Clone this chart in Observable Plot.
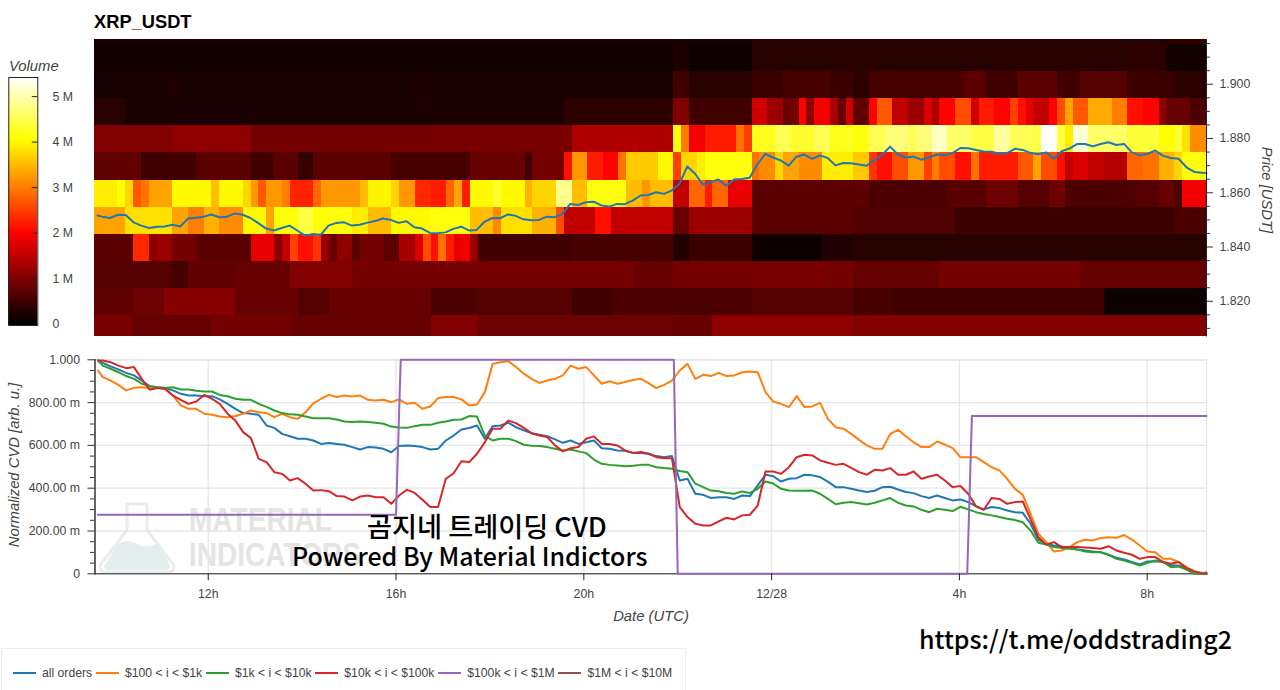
<!DOCTYPE html>
<html>
<head>
<meta charset="utf-8">
<script src="https://cdn.jsdelivr.net/npm/d3@7"></script>
<script src="https://cdn.jsdelivr.net/npm/@observablehq/plot@0.6"></script>
<style>
html,body{margin:0;padding:0;background:#fff;}
#page{position:relative;width:1280px;height:690px;overflow:hidden;font-family:"Liberation Sans",Arial,sans-serif;}
#page svg.plot, #page svg{position:absolute;left:0;}
.t{position:absolute;white-space:nowrap;color:#444;}
.lab{font-style:italic;font-size:14.8px;}
.big{color:#000;font-family:"Noto Sans CJK KR","Noto Sans",sans-serif;font-weight:500;z-index:5;}
#legend{position:absolute;left:1px;top:648px;width:685px;height:50px;border:1px solid #eeeeee;box-sizing:border-box;display:flex;align-items:flex-start;padding:17px 0 0 11px;font-size:12.2px;color:#444;z-index:4;}
#legend .i{display:flex;align-items:center;margin-right:3.8px;}
#legend .k{display:inline-block;width:23px;height:2px;margin-right:6px;}
.wm{position:absolute;font-weight:700;font-size:33px;color:#e4e4e4;transform-origin:left top;transform:scaleX(.85);white-space:nowrap;}
</style>
</head>
<body>
<div id="page">
  <svg id="flask" style="left:96px;top:500px" width="82" height="75" viewBox="0 0 82 75">
    <path d="M31 4H51V30L77 64Q80 72 72 72H10Q2 72 5 64L31 30Z" fill="none" stroke="#ececec" stroke-width="3"/>
    <path d="M8 66L22 44Q32 38 42 44Q52 50 62 42L74 66Q74 70 70 70H12Q8 70 8 66Z" fill="#e4eeee"/>
  </svg>
  <div class="wm" style="left:189px;top:501px">MATERIAL</div>
  <div class="wm" style="left:189px;top:536px">INDICATORS</div>
  <div class="t" style="left:94px;top:11px;font-size:18.3px;font-weight:700;color:#000">XRP_USDT</div>
  <div class="t lab" style="left:9px;top:58px">Volume</div>
  <div class="t lab" style="left:1267px;top:190px;transform:translate(-50%,-50%) rotate(90deg)">Price [USDT]</div>
  <div class="t lab" style="left:14px;top:465px;transform:translate(-50%,-50%) rotate(-90deg)">Normalized CVD [arb. u.]</div>
  <div class="t lab" style="left:651px;top:608px;transform:translateX(-50%)">Date (UTC)</div>
  <div class="t big" style="left:367px;top:507px;font-size:27.2px;line-height:36px">곰지네 트레이딩 CVD</div>
  <div class="t big" style="left:292px;top:537px;font-size:25px;line-height:36px">Powered By Material Indictors</div>
  <div class="t big" style="left:919px;top:620px;font-size:25px;line-height:36px">https://t.me/oddstrading2</div>
  <div id="legend"></div>
</div>
<script>
// ---------- time ----------
const startTime = Date.UTC(2025, 11, 27, 9, 35, 17);
const endTime = Date.UTC(2025, 11, 28, 9, 15, 48);
const heatStepMinutes = 10;
const sampleStepMinutes = 9.964;
const firstSampleOffsetMinutes = 3.8;
const xTickTimes = [
  Date.UTC(2025,11,27,12), Date.UTC(2025,11,27,16), Date.UTC(2025,11,27,20),
  Date.UTC(2025,11,28,0), Date.UTC(2025,11,28,4), Date.UTC(2025,11,28,8)
];
const xTickLabels = ["12h","16h","20h","12/28","4h","8h"];

// ---------- heat map: volume (millions) as [run length in 10-minute columns, value], row named by its lower price edge ----------
const vol18047 = [[5,.95],[10,.8],[10,.9],[18,.8],[6,1.0],[25,.85],[5,.8],[18,1.1],[46,1.0]];
const vol18147 = [[5,.75],[4,.85],[9,1.05],[8,.8],[4,.65],[13,.8],[6,.6],[12,.65],[5,.5],[18,.6],[13,.65],[5,.55],[27,.5],[14,.1]];
const vol18247 = [[10,.65],[2,.55],[6,.75],[7,.8],[8,1.0],[10,.9],[6,.9],[20,.9],[5,.8],[10,.9],[9,.95],[4,.9],[11,.8],[18,.9],[17,.8]];
const vol18347 = [[5,.7],[2,2.3],[1,1.1],[2,1.2],[3,.9],[3,.7],[4,.7],[3,1.8],[1,1.1],[1,1.5],[1,2.5],[2,2.1],[1,2.4],[1,1.2],[1,.8],[2,1.1],[1,.7],[3,.9],[2,.7],[2,1.3],[1,1.7],[1,2.6],[1,2.1],[1,2.9],[1,2.2],[1,1.8],[1,1.9],[1,1.2],[12,.5],[13,.55],[2,.25],[8,.45],[9,.12],[4,.25],[45,.3],[1,.25]];
const vol18447 = [[4,3.3],[6,3.8],[2,3.3],[2,3.0],[2,3.4],[3,3.1],[3,4.0],[1,3.3],[3,4.1],[2,4.4],[5,4.1],[2,3.9],[3,3.5],[5,4.0],[5,4.1],[3,3.5],[1,3.1],[4,3.8],[3,3.4],[1,2.6],[4,1.5],[2,2.1],[8,1.5],[2,.8],[8,1.2],[13,.7],[13,.62],[28,.47],[5,.58]];
const vol18547 = [[3,3.9],[1,4.05],[1,3.7],[1,2.7],[1,2.9],[3,3.3],[5,4.0],[1,3.5],[3,4.0],[1,3.7],[1,3.2],[1,2.7],[2,3.2],[1,3.0],[3,2.25],[1,2.8],[5,3.2],[1,3.5],[3,3.95],[1,3.7],[2,3.2],[2,2.3],[2,2.2],[1,2.8],[1,3.3],[1,2.2],[3,4.0],[1,4.3],[3,4.0],[1,3.4],[3,3.7],[2,4.8],[2,3.5],[5,4.1],[2,3.5],[1,3.2],[3,3.5],[2,1.5],[2,2.8],[1,2.2],[2,2.8],[3,1.8],[15,.72],[10,.6],[5,.68],[4,.85],[4,.65],[2,.85],[9,.6],[3,.65],[2,.78],[1,.6],[4,1.9]];
const vol18647 = [[6,.75],[7,.5],[7,.7],[3,.5],[3,.7],[2,.4],[10,.7],[5,.55],[5,.55],[7,.8],[1,.5],[4,.9],[1,2.1],[2,3.2],[2,2.2],[2,2.0],[1,2.9],[4,3.6],[2,4.0],[1,2.5],[2,3.7],[1,3.9],[6,4.1],[1,2.9],[2,3.1],[1,3.7],[2,3.3],[3,3.1],[4,3.9],[2,3.6],[1,2.4],[2,2.1],[2,2.6],[2,3.2],[1,2.5],[1,3.0],[2,2.6],[2,2.1],[1,2.9],[5,2.2],[2,2.7],[1,3.3],[2,2.6],[1,2.1],[1,1.5],[2,1.7],[2,1.5],[3,1.4],[2,2.8],[2,2.9],[2,3.4],[1,3.7],[4,4.1]];
const vol18747 = [[10,1.0],[10,1.1],[23,.9],[18,.95],[13,1.35],[1,4.1],[1,3.0],[2,1.9],[4,2.2],[1,2.9],[1,2.5],[3,4.2],[2,4.5],[3,4.3],[2,4.5],[3,4.2],[2,4.1],[2,4.5],[3,4.7],[1,4.5],[2,4.7],[2,5.1],[3,4.6],[3,4.4],[2,4.9],[3,4.5],[1,4.4],[2,5.4],[1,4.4],[1,3.9],[2,5.2],[5,4.6],[4,4.35],[2,4.05],[1,4.3],[1,3.8],[2,3.1],[1,3.4]];
const vol18847 = [[4,.3],[56,.2],[14,.35],[2,1.0],[8,.5],[2,1.6],[2,1.2],[1,.8],[1,.9],[1,2.0],[1,1.1],[2,1.9],[1,1.3],[1,.8],[1,1.6],[2,.75],[1,2.0],[2,2.7],[2,1.5],[2,1.2],[1,1.7],[1,1.3],[2,2.0],[2,2.6],[1,1.6],[2,2.2],[2,2.0],[1,2.5],[1,2.1],[1,1.8],[2,1.5],[1,2.0],[1,2.6],[1,3.3],[2,2.7],[3,3.35],[2,3.0],[2,2.1],[2,2.0],[1,1.1],[3,.8],[3,.6]];
const vol18947 = [[9,.17],[2,.22],[29,.17],[3,.22],[31,.2],[2,.5],[8,.3],[4,.45],[6,.55],[3,.45],[2,.35],[12,.55],[3,.7],[4,.5],[5,.7],[3,.5],[6,.65],[6,.45],[5,.35]];
const vol19047 = [[74,.14],[2,.22],[8,.12],[48,.3],[5,.35],[6,.15]];
const vol19147 = [[84,.2],[59,.3]];
const volumeRows = [vol18047,vol18147,vol18247,vol18347,vol18447,vol18547,vol18647,vol18747,vol18847,vol18947,vol19047,vol19147];
const rowLowerEdges = [1.8047,1.8147,1.8247,1.8347,1.8447,1.8547,1.8647,1.8747,1.8847,1.8947,1.9047,1.9147];
const rowHeight = 0.01;
const priceDomain = [1.8072, 1.9165];
const priceTicks = [1.82,1.84,1.86,1.88,1.90];
const priceMinorTicks = [1.81,1.815,1.825,1.83,1.835,1.845,1.85,1.855,1.865,1.87,1.875,1.885,1.89,1.895,1.905,1.91,1.915];

// ---------- price line (USDT) ----------
const priceLine = [
1.8516,1.8512,1.8507,1.8519,1.8518,1.8491,1.8479,1.8470,1.8475,1.8476,
1.8482,1.8476,1.8505,1.8508,1.8512,1.8520,1.8510,1.8512,1.8524,1.8519,
1.8507,1.8488,1.8468,1.8461,1.8470,1.8479,1.8461,1.8441,1.8448,1.8445,
1.8479,1.8489,1.8491,1.8479,1.8482,1.8490,1.8496,1.8505,1.8500,1.8489,
1.8495,1.8473,1.8468,1.8452,1.8451,1.8454,1.8467,1.8475,1.8461,1.8463,
1.8493,1.8507,1.8506,1.8520,1.8515,1.8502,1.8499,1.8500,1.8512,1.8510,
1.8522,1.8559,1.8555,1.8565,1.8567,1.8553,1.8549,1.8559,1.8558,1.8571,
1.8590,1.8592,1.8602,1.8596,1.8608,1.8633,1.8697,1.8670,1.8630,1.8639,
1.8649,1.8626,1.8649,1.8651,1.8655,1.8706,1.8743,1.8730,1.8719,1.8700,
1.8733,1.8741,1.8725,1.8738,1.8728,1.8701,1.8710,1.8709,1.8704,1.8700,
1.8721,1.8740,1.8770,1.8741,1.8730,1.8733,1.8722,1.8730,1.8741,1.8738,
1.8746,1.8765,1.8764,1.8758,1.8752,1.8751,1.8744,1.8746,1.8762,1.8758,
1.8747,1.8742,1.8749,1.8725,1.8753,1.8763,1.8780,1.8780,1.8771,1.8780,
1.8786,1.8776,1.8780,1.8749,1.8738,1.8743,1.8756,1.8736,1.8728,1.8725,
1.8694,1.8677,1.8674,1.8673];

// ---------- normalized CVD (milli units) ----------
const cvdAll = [
997,986,969,955,939,927,903,877,872,868,
857,841,833,833,830,830,815,794,771,751,
748,743,693,682,654,643,631,631,623,607,
611,607,603,592,581,592,590,584,568,597,
600,597,592,581,584,623,646,674,681,693,
631,690,693,706,685,670,657,650,643,628,
612,623,607,615,623,587,584,576,575,565,
565,561,550,545,550,436,444,374,369,354,
358,358,350,366,363,413,463,456,431,444,
447,463,460,452,431,405,405,397,389,382,
388,405,407,394,382,377,363,354,366,354,
343,347,335,316,301,312,307,296,288,285,
234,159,140,132,128,120,114,109,104,101,
89,75,67,55,44,58,59,55,39,39,
26,11,2,0];
const cvd100to1k = [
950,919,903,883,857,869,872,868,871,864,
833,787,771,771,748,743,735,732,737,748,
763,755,751,732,748,732,724,755,796,818,
836,826,833,829,833,813,810,813,802,815,
794,799,771,782,821,826,826,815,787,791,
849,981,989,994,966,935,911,892,903,911,
927,973,958,966,927,888,900,888,896,906,
911,891,868,883,903,950,981,911,930,924,
939,924,927,942,945,942,849,805,794,779,
830,779,782,799,724,685,678,654,626,600,
584,584,654,673,643,615,592,592,618,604,
587,545,545,545,522,498,483,444,397,369,
280,187,148,104,109,125,148,159,156,167,
171,168,181,160,132,104,101,70,70,55,
31,11,5,3];
const cvd1kto10k = [
997,973,958,942,924,911,888,877,872,868,
872,861,861,855,852,852,836,830,818,813,
813,794,780,763,751,745,743,735,727,727,
727,721,712,709,712,709,706,701,688,684,
682,690,696,696,706,712,720,721,737,735,
646,623,631,631,620,603,598,597,592,584,
576,581,572,564,534,514,509,506,503,505,
509,509,498,494,491,480,475,421,405,389,
386,378,374,385,378,397,431,422,397,389,
388,388,389,374,350,325,332,335,330,324,
332,343,354,332,319,315,299,288,304,299,
293,313,301,288,279,273,265,257,251,241,
202,145,137,125,121,117,114,104,101,101,
89,70,62,51,39,51,62,55,31,34,
20,0,0,0];
const cvd10kto100k = [
997,997,989,973,961,966,911,860,868,864,
833,813,794,805,836,818,794,748,716,662,
634,537,522,475,467,436,447,421,389,391,
386,363,361,343,361,366,358,358,327,366,
393,378,346,312,312,444,470,526,522,561,
615,678,678,716,704,682,657,646,639,600,
572,587,592,631,642,607,607,600,576,565,
569,561,545,540,540,312,265,234,226,226,
245,262,254,273,276,319,478,478,467,498,
545,556,553,530,519,509,514,495,475,463,
486,483,494,463,463,478,444,455,463,436,
405,410,374,315,299,354,350,327,335,338,
254,171,137,148,125,125,125,123,120,117,
129,109,98,89,70,78,78,55,47,55,
26,11,2,0];
const cvd100kto1mTimes = [
  Date.UTC(2025,11,27,9,39), Date.UTC(2025,11,27,16,0), Date.UTC(2025,11,27,16,6),
  Date.UTC(2025,11,27,21,55), Date.UTC(2025,11,27,22,0), Date.UTC(2025,11,28,4,10),
  Date.UTC(2025,11,28,4,16), endTime];
const cvd100kto1m = [276,276,1000,1000,0,0,737,737];
const cvd1mto10mTimes = [Date.UTC(2025,11,28,9,8), endTime];
const cvd1mto10m = [0,6];
const cvdTicks = [0,200,400,600,800,1000];
const cvdMinorTicks = [50,100,150,250,300,350,450,500,550,650,700,750,850,900,950];

// ---------- legend ----------
const seriesNames = ["all orders","$100 < i < $1k","$1k < i < $10k","$10k < i < $100k","$100k < i < $1M","$1M < i < $10M"];
const seriesColors = ["#1f77b4","#ff7f0e","#2ca02c","#d62728","#9467bd","#8c564b"];

// ---------- colour bar ----------
const volumeTicks = [0,1,2,3,4,5];
const volumeDomain = [-0.03, 5.42];
const colorScale = {type:"linear", domain:[0,1.98,4.04,5.42], range:["#000000","#ff0000","#ffff00","#ffffff"], interpolate:"rgb", clamp:true};

// ---------- build tables ----------
const heatStep = heatStepMinutes*60000;
const cells = [];
volumeRows.forEach((runs, r) => {
  let c = 0;
  for (const [n, v] of runs) {
    for (let k = 0; k < n; k++, c++) {
      const x1 = startTime + c*heatStep;
      if (x1 >= endTime) continue;
      cells.push({x1:new Date(x1), x2:new Date(Math.min(x1+heatStep,endTime)),
        y1:Math.max(rowLowerEdges[r],priceDomain[0]), y2:Math.min(rowLowerEdges[r]+rowHeight,priceDomain[1]), v});
    }
  }
});
const sampleTime = i => i === 0 ? new Date(startTime + firstSampleOffsetMinutes*60000)
  : i >= 143 ? new Date(endTime) : new Date(startTime + i*sampleStepMinutes*60000);
const sampled = vals => vals.map((v,i)=>({t:sampleTime(i), v}));
const knots = (ts,vs) => vs.map((v,i)=>({t:new Date(ts[i]), v}));
const xDomain = [new Date(startTime), new Date(endTime)];
const tickDates = xTickTimes.map(t=>new Date(t));
const textFill = "#444";
const fontSize = "12.3px";
const font = {fontFamily:"'Liberation Sans',Arial,sans-serif", fontSize};
const page = document.getElementById("page");

// ---------- heat map ----------
const heatPlot = Plot.plot({
  width:1280, height:338, marginLeft:94, marginRight:74, marginTop:39, marginBottom:2.5,
  style:{background:"transparent", ...font},
  x:{type:"time", domain:xDomain, axis:null},
  y:{domain:priceDomain, axis:null},
  color:colorScale,
  marks:[
    Plot.rect(cells,{x1:"x1",x2:"x2",y1:"y1",y2:"y2",fill:"v",shapeRendering:"crispEdges"}),
    Plot.line(sampled(priceLine),{x:"t",y:"v",stroke:"#1f77b4",strokeWidth:2,strokeLinejoin:"round"}),
    Plot.frame({anchor:"right",stroke:"#222",strokeWidth:1}),
    Plot.axisY(priceTicks,{anchor:"right",tickSize:6,tickPadding:7,tickFormat:d3.format(".3f"),stroke:"#333",fill:textFill,label:null}),
    Plot.axisY(priceMinorTicks,{anchor:"right",tickSize:3,tickFormat:()=>null,stroke:"#333",label:null})
  ]
});
heatPlot.style.top="0px";
page.appendChild(heatPlot);

// ---------- colour bar ----------
const levels = d3.range(volumeDomain[0], volumeDomain[1], 0.02);
const barPlot = Plot.plot({
  width:90, height:338, marginLeft:8.3, marginRight:52.7, marginTop:77, marginBottom:13,
  style:{background:"transparent", ...font},
  x:{axis:null},
  y:{domain:volumeDomain, axis:null},
  color:colorScale,
  marks:[
    Plot.rect(levels,{y1:d=>d,y2:d=>Math.min(d+0.05,volumeDomain[1]),fill:d=>d,shapeRendering:"crispEdges"}),
    Plot.tickY(volumeTicks.slice(1),{y:d=>d,stroke:"#222",insetLeft:23.5}),
    Plot.axisY(volumeTicks,{anchor:"right",tickSize:0,tickPadding:14.7,tickFormat:d=>d===0?"0":d+" M",fill:textFill,label:null}),
    Plot.frame({stroke:"#222",strokeWidth:1})
  ]
});
barPlot.style.top="0px";
page.appendChild(barPlot);

// ---------- CVD ----------
const cvdPlot = Plot.plot({
  width:1280, height:285, marginLeft:94.5, marginRight:74, marginTop:14.3, marginBottom:56.7,
  style:{background:"transparent", ...font},
  x:{type:"time", domain:xDomain, axis:null},
  y:{domain:[0,1000], axis:null},
  marks:[
    Plot.gridX(tickDates,{stroke:"#e6e6e6",strokeOpacity:1,strokeWidth:1.3}),
    Plot.gridY(cvdTicks,{stroke:"#e6e6e6",strokeOpacity:1,strokeWidth:1.3}),
    Plot.frame({anchor:"right",stroke:"#e6e6e6",strokeWidth:1.3}),
    Plot.frame({anchor:"top",stroke:"#e6e6e6",strokeWidth:1.3}),
    Plot.frame({anchor:"left",stroke:"#333",strokeWidth:1.5}),
    Plot.frame({anchor:"bottom",stroke:"#222",strokeWidth:1}),
    Plot.line(sampled(cvdAll),{x:"t",y:"v",stroke:seriesColors[0],strokeWidth:2,strokeLinejoin:"round"}),
    Plot.line(sampled(cvd100to1k),{x:"t",y:"v",stroke:seriesColors[1],strokeWidth:2,strokeLinejoin:"round"}),
    Plot.line(sampled(cvd1kto10k),{x:"t",y:"v",stroke:seriesColors[2],strokeWidth:2,strokeLinejoin:"round"}),
    Plot.line(sampled(cvd10kto100k),{x:"t",y:"v",stroke:seriesColors[3],strokeWidth:2,strokeLinejoin:"round"}),
    Plot.line(knots(cvd100kto1mTimes,cvd100kto1m),{x:"t",y:"v",stroke:seriesColors[4],strokeWidth:2,strokeLinejoin:"round"}),
    Plot.line(knots(cvd1mto10mTimes,cvd1mto10m),{x:"t",y:"v",stroke:seriesColors[5],strokeWidth:2,strokeLinejoin:"round"}),
    Plot.axisY(cvdTicks,{anchor:"left",tickSize:7,tickPadding:8,stroke:"#333",fill:textFill,label:null,
      tickFormat:d=>d===0?"0":d===1000?"1.000":d3.format(".2f")(d)+" m"}),
    Plot.axisY(cvdMinorTicks,{anchor:"left",tickSize:4.5,tickFormat:()=>null,stroke:"#333",label:null}),
    Plot.axisX(tickDates,{anchor:"bottom",tickSize:7,tickPadding:8,stroke:"#222",fill:textFill,label:null,
      tickFormat:d=>xTickLabels[xTickTimes.indexOf(+d)]})
  ]
});
cvdPlot.style.top="345px";
page.appendChild(cvdPlot);

// ---------- legend ----------
const legend = document.getElementById("legend");
seriesNames.forEach((n,i)=>{
  const it=document.createElement("span"); it.className="i";
  const k=document.createElement("span"); k.className="k"; k.style.background=seriesColors[i];
  const s=document.createElement("span"); s.textContent=n;
  it.append(k,s); legend.appendChild(it);
});
</script>
</body>
</html>
